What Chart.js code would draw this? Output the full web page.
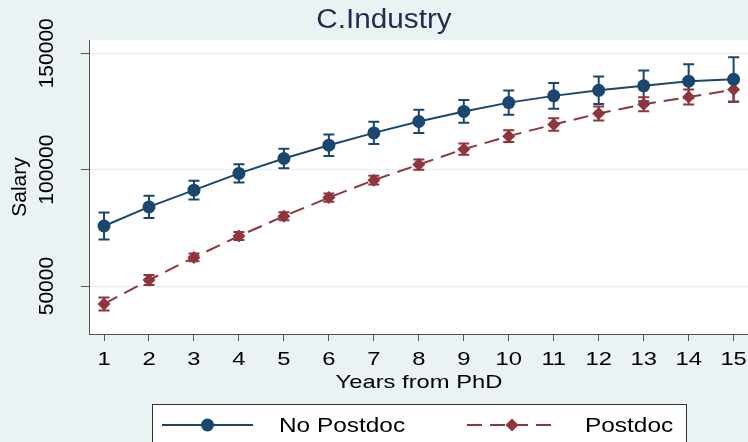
<!DOCTYPE html>
<html>
<head>
<meta charset="utf-8">
<script src="https://cdn.jsdelivr.net/npm/chart.js@4.4.1/dist/chart.umd.min.js"></script>
<style>
  html, body { margin: 0; padding: 0; background: #eaf2f3; }
  #wrap { width: 748px; height: 442px; }
</style>
</head>
<body>
<div id="wrap"><canvas id="grafico" width="748" height="442"></canvas></div>
<script>
// anos desde o doutorado
const years = [1, 2, 3, 4, 5, 6, 7, 8, 9, 10, 11, 12, 13, 14, 15];

// salario medio sem pos-doc e intervalo
const noPostdoc     = [75800, 84000, 91200, 98400, 104800, 110500, 115800, 120700, 125000, 128800, 131700, 134100, 136000, 138000, 138800];
const noPostdocLow  = [70000, 79200, 87200, 94500, 100600, 105900, 111000, 115700, 120100, 123600, 126200, 128200, 129400, 130700, 129300];
const noPostdocHigh = [81600, 88800, 95200, 102300, 109000, 115100, 120600, 125700, 129900, 134000, 137200, 140000, 142600, 145300, 148300];

// salario medio com pos-doc e intervalo
const postdoc     = [42300, 52600, 62300, 71500, 80000, 88000, 95500, 102200, 108800, 114400, 119400, 124100, 128100, 131200, 134400];
const postdocLow  = [39500, 50500, 60600, 69800, 78300, 86200, 93600, 100000, 106400, 111900, 116700, 121100, 125100, 128000, 129100];
const postdocHigh = [45100, 54700, 64000, 73200, 81700, 89800, 97400, 104400, 111200, 116900, 122100, 127100, 131100, 134400, 139700];

const yTicks = [50000, 100000, 150000];
const seriesNames = ['No Postdoc', 'Postdoc'];

const BLUE = '#1a476f';
const RED = '#90353b';
const FONT = '"Liberation Sans", Arial, sans-serif';
const DASH = [15, 8];

function pts(vals) {
    return years.map((x, i) => ({ x: x, y: vals[i] }));
}

// texto um pouco esticado na horizontal, como no original
function wideText(c, txt, x, y, size, sx, align) {
    c.save();
    c.font = size + 'px ' + FONT;
    c.textAlign = align || 'center';
    c.textBaseline = 'middle';
    c.translate(x, y);
    c.scale(sx, 1);
    c.fillText(txt, 0, 0);
    c.restore();
}

// fundo branco da area do grafico
const plotBg = {
    id: 'plotBg',
    beforeDraw(chart) {
        const a = chart.chartArea;
        const c = chart.ctx;
        c.save();
        c.fillStyle = '#ffffff';
        c.fillRect(a.left, a.top, a.right - a.left, a.bottom - a.top);
        c.restore();
    }
};

// barras de erro com tampas
const errorBars = {
    id: 'errorBars',
    beforeDatasetsDraw(chart) {
        const c = chart.ctx;
        const xs = chart.scales.x, ys = chart.scales.y;
        const sets = [[noPostdocLow, noPostdocHigh, BLUE], [postdocLow, postdocHigh, RED]];
        c.save();
        c.lineWidth = 2;
        sets.forEach(([lo, hi, col]) => {
            c.strokeStyle = col;
            years.forEach((yr, i) => {
                const px = xs.getPixelForValue(yr);
                const y1 = ys.getPixelForValue(lo[i]);
                const y2 = ys.getPixelForValue(hi[i]);
                c.beginPath();
                c.moveTo(px, y1); c.lineTo(px, y2);
                c.moveTo(px - 5.5, y1); c.lineTo(px + 5.5, y1);
                c.moveTo(px - 5.5, y2); c.lineTo(px + 5.5, y2);
                c.stroke();
            });
        });
        c.restore();
    }
};

// textos: titulo, rotulos dos eixos, titulos e legenda
const texts = {
    id: 'texts',
    afterDraw(chart) {
        const c = chart.ctx;
        const xs = chart.scales.x, ys = chart.scales.y;
        const a = chart.chartArea;
        c.save();
        c.textAlign = 'center';
        c.textBaseline = 'middle';

        c.fillStyle = '#1e2d50';
        wideText(c, 'C.Industry', 384, 21, 27, 1.1);

        c.fillStyle = '#000';
        c.font = '21px ' + FONT;
        yTicks.forEach(v => {
            c.save();
            c.translate(47, ys.getPixelForValue(v));
            c.rotate(-Math.PI / 2);
            c.fillText(String(v), 0, 0);
            c.restore();
        });
        c.save();
        c.translate(20, (a.top + a.bottom) / 2);
        c.rotate(-Math.PI / 2);
        c.fillText('Salary', 0, 0);
        c.restore();

        years.forEach(v => {
            wideText(c, String(v), xs.getPixelForValue(v), 360, 19, 1.25);
        });

        wideText(c, 'Years from PhD', 419, 383, 19, 1.25);

        // legenda
        c.fillStyle = '#fff';
        c.strokeStyle = '#333';
        c.lineWidth = 1;
        c.fillRect(152.5, 404.5, 534, 50);
        c.strokeRect(152.5, 404.5, 534, 50);

        const ly = 425;
        c.lineWidth = 2;
        c.strokeStyle = BLUE;
        c.beginPath(); c.moveTo(162, ly); c.lineTo(253, ly); c.stroke();
        c.fillStyle = BLUE;
        c.beginPath(); c.arc(207.5, ly, 6.5, 0, Math.PI * 2); c.fill();

        c.strokeStyle = RED;
        c.setLineDash(DASH);
        c.beginPath(); c.moveTo(467, ly); c.lineTo(553, ly); c.stroke();
        c.setLineDash([]);
        c.fillStyle = RED;
        c.beginPath();
        c.moveTo(512, ly - 6.5); c.lineTo(518.5, ly); c.lineTo(512, ly + 6.5); c.lineTo(505.5, ly);
        c.closePath(); c.fill();

        c.fillStyle = '#000';
        wideText(c, seriesNames[0], 279, ly + 1, 20, 1.22, 'left');
        wideText(c, seriesNames[1], 585, ly + 1, 20, 1.22, 'left');
        c.restore();
    }
};

const ctx = document.getElementById('grafico').getContext('2d');

new Chart(ctx, {
    type: 'line',
    data: {
        datasets: [{
            label: seriesNames[0],
            data: pts(noPostdoc),
            borderColor: BLUE,
            backgroundColor: BLUE,
            borderWidth: 2,
            pointStyle: 'circle',
            pointRadius: 6.5,
            pointBorderWidth: 0,
            tension: 0
        }, {
            label: seriesNames[1],
            data: pts(postdoc),
            borderColor: RED,
            backgroundColor: RED,
            borderWidth: 2,
            borderDash: DASH,
            pointStyle: 'rectRot',
            pointRadius: 6.5,
            pointBorderWidth: 0,
            tension: 0
        }]
    },
    options: {
        responsive: false,
        animation: false,
        devicePixelRatio: 1,
        layout: { padding: { top: 40, left: 0, right: 0, bottom: 0 }, autoPadding: false },
        plugins: {
            legend: { display: false },
            title: { display: false },
            tooltip: { enabled: false }
        },
        scales: {
            x: {
                type: 'linear',
                min: 0.666,
                max: 15.32,
                afterBuildTicks: s => { s.ticks = years.map(v => ({ value: v })); },
                afterFit: s => { s.height = 108; },
                grid: { drawOnChartArea: false, drawTicks: true, tickLength: 7, color: '#555' },
                border: { display: true, color: '#555', width: 1 },
                ticks: { display: false }
            },
            y: {
                min: 29400,
                max: 155700,
                afterBuildTicks: s => { s.ticks = yTicks.map(v => ({ value: v })); },
                afterFit: s => { s.width = 89; },
                grid: { color: '#e6eef0', lineWidth: 1, drawTicks: true, tickLength: 8, tickColor: '#555' },
                border: { display: true, color: '#555', width: 1 },
                ticks: { display: false }
            }
        }
    },
    plugins: [plotBg, errorBars, texts]
});
</script>
</body>
</html>
